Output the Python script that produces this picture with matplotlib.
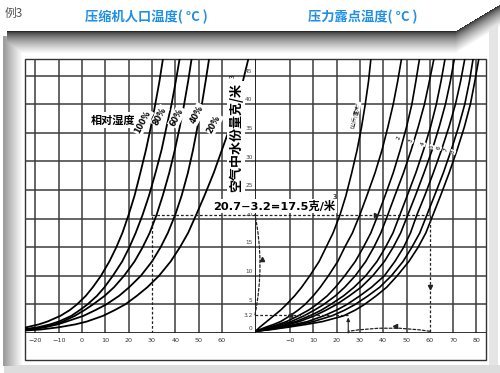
import numpy as np
import matplotlib
matplotlib.use("Agg")
import matplotlib.pyplot as plt
from matplotlib.patches import Rectangle

plt.rcParams['font.family'] = ['Noto Sans CJK SC', 'DejaVu Sans']

W, H = 500, 373

LEVELS = [0.3, 0.6, 1, 1.5, 2, 3, 4, 5, 6.5, 8, 10, 12.5, 15, 17.5, 20.7,
          24, 28, 32, 36, 40, 44, 49]

# compressor inlet temperature for each relative humidity
RH_LABELS = ["100%", "80%", "60%", "40%", "20%"]
RH_100 = [-40, -30.6, -23.9, -18.6, -14.9, -9.3, -5.3, -2.2, 1.6, 4.6, 8.1,
          11.7, 14.7, 17.3, 20, 22.5, 25, 27.4, 29.5, 31.4, 33.2, 35.1]
RH_80 = [-36, -26, -19, -13.8, -10, -4.6, -1, 2.3, 6.4, 9.6, 13.2, 17.2,
         20.3, 23, 26, 28.7, 31.5, 34.1, 36.2, 38.4, 40.2, 42.3]
RH_60 = [-34, -24, -16.9, -11.7, -8.3, -3.1, 1, 4.7, 9.7, 13.7, 18, 22.5, 26,
         29, 32, 34.6, 37.4, 39.8, 41.9, 43.8, 45.5, 47.4]
RH_40 = [-33, -23, -16, -10.5, -6.7, 0.6, 5.7, 10.4, 15.9, 20.2, 25.2, 30,
         33.7, 36.8, 40, 42.7, 45.4, 47.6, 49.5, 51.4, 53, 54.9]
RH_20 = [-30, -18, -10, -3, 2, 9, 14, 18.5, 23.5, 28, 33, 38, 42, 45.5, 49,
         52.5, 56.5, 60, 63.5, 66.5, 69, 72]

# pressure dew point for each gauge pressure (kg/cm2)
GAUGE_LABELS = ["0", "1", "2", "3", "4", "5", "6", "7", "8"]
DEW_0 = [-15, -14, -13, -11.5, -10, -7, -4, -1.5, 2, 5, 8.5, 12.5, 15.5,
         18.5, 21.5, 24, 26.5, 28.8, 30.7, 32.3, 33.7, 35]
DEW_1 = [-15, -13, -10.5, -7, -4, 0, 3.5, 6.5, 10, 13, 16.5, 20.5, 23.5,
         26.8, 30, 33, 36.5, 39.5, 42, 44.3, 46.2, 48.3]
DEW_2 = [-15, -12, -9, -5, -1.5, 3.5, 8, 11.5, 16, 19.5, 23.5, 28, 31.5,
         34.7, 37.8, 40.8, 44.3, 47.3, 50, 52.3, 54, 56]
DEW_3 = [-15, -11.5, -8, -3.5, 0.5, 6, 10.5, 14.5, 19.5, 23.5, 28, 32.5, 36,
         39, 42, 45, 48.7, 52, 55, 57.7, 59.8, 62.3]
DEW_4 = [-15, -11, -7, -2, 2.5, 8.5, 13.5, 17.5, 23, 27.5, 32.5, 37.3, 41,
         44.2, 47.2, 50.3, 54, 57.3, 60.3, 62.8, 64.8, 67]
DEW_5 = [-15, -10.5, -6, -0.5, 4, 10.5, 15.5, 20, 25.5, 30.5, 35.5, 40.5,
         44.3, 47.5, 50.6, 53.8, 57.5, 61, 64, 66.7, 68.8, 71]
DEW_6 = [-15, -9.5, -4, 2, 7.5, 14.5, 20, 24.5, 30, 35, 40.5, 45, 48.8, 51.7,
         54.5, 57.8, 61.5, 65, 68.2, 71, 73.2, 75.5]
DEW_7 = [-15, -9, -3, 4, 10, 18, 23.5, 28, 33.5, 38.5, 43.5, 48.5, 52.3,
         55.7, 58.8, 62, 65.8, 69.2, 72.3, 75, 77, 79]
DEW_8 = [-15, -8, -1, 7, 14, 23, 28, 32, 37, 41.5, 46, 51, 55, 58.3, 61.4,
         64.6, 68.3, 71.7, 74.8, 77.4, 79.3, 81.5]

LEFT_TICKS = [-20, -10, 0, 10, 20, 30, 40, 50, 60]
LEFT_TICK_LABELS = ["\u221220", "\u221210", "0", "10", "20", "30", "40", "50", "60"]
RIGHT_TICKS = [0, 10, 20, 30, 40, 50, 60, 70, 80]
RIGHT_TICK_LABELS = ["\u22120", "10", "20", "30", "40", "50", "60", "70", "80"]
Y_TICKS = [0, 5, 10, 15, 20, 25, 30, 35, 40, 45]

# worked example
INLET_T = 30
WATER_IN = 20.7
WATER_OUT = 3.2
HOT_T = 60
DEW_T = 25

YMAX = 47.9
GRID = "#3c3c3c"
DASH = (0, (2.2, 1.6))


def _frame(ax):
  img = np.ones((H, W, 3))
  rows = np.arange(H)[:, None]
  cols = np.arange(W)[None, :]
  top = np.where(cols > 455, 31 - (cols - 455) * 0.6, 31)
  d = rows - top
  band = np.clip(d / 22.0, 0, 1) ** 0.65
  shade = np.where((d >= 0) & (rows < 60) & (cols > 6), 0.15 + 0.85 * band, 1)
  left = np.clip((cols - 4) / 18.0, 0, 1)
  lshade = np.where((cols >= 3) & (cols < 24) & (rows > 35) & (rows < 366),
                    0.62 + 0.38 * left, 1)
  bot = np.where((rows > 364) & (cols > 3), 0.87, 1)
  right = np.where((cols > 488) & (cols < 498) & (rows > 20) & (rows < 368),
                   0.9, 1)
  v = np.minimum.reduce([shade, lshade, bot, right])
  img *= v[..., None]
  ax.imshow(img, extent=(0, W, H, 0), aspect="auto", zorder=0)
  ax.add_patch(Rectangle((25, 59), 461, 301, fill=False, lw=1.0,
                         ec="#333333", zorder=1))


def _grid(ax, xticks, skip_t):
  for t in xticks:
    lo = WATER_IN / YMAX if t == skip_t else 0
    ax.axvline(t, ymin=lo, ymax=1, color=GRID, lw=1.1, zorder=1)
  ax.hlines(Y_TICKS[1:], *ax.get_xlim(), color=GRID, lw=1.1, zorder=1)
  ax.axhline(0, color="#111111", lw=1.2, zorder=2)
  ax.set_xticks([])
  ax.set_yticks([])
  for s in ax.spines.values():
    s.set_visible(False)


def _ticklabels(ax, ticks, labels):
  for t, lab in zip(ticks, labels):
    ax.text(t, -0.9, lab, ha="center", va="top", fontsize=4.6,
            color="#333333", family="DejaVu Sans")


fig = plt.figure(figsize=(W / 100, H / 100), dpi=100)
ax_bg = fig.add_axes([0, 0, 1, 1])
ax_bg.set_xlim(0, W)
ax_bg.set_ylim(H, 0)
ax_bg.axis("off")
_frame(ax_bg)

ax_l = fig.add_axes([25 / W, 40 / H, 230 / W, 274 / H], facecolor="none")
ax_r = fig.add_axes([255 / W, 40 / H, 231 / W, 274 / H], facecolor="none")
ax_l.set_xlim(-24.5, 74.2)
ax_r.set_xlim(-15.0, 84.1)
for ax in (ax_l, ax_r):
  ax.set_ylim(0, YMAX)

_grid(ax_l, LEFT_TICKS, INLET_T)
_grid(ax_r, RIGHT_TICKS, HOT_T)
ax_r.axvline(-15.0, color="#111111", lw=1.3, zorder=2)
_ticklabels(ax_l, LEFT_TICKS, LEFT_TICK_LABELS)
_ticklabels(ax_r, RIGHT_TICKS, RIGHT_TICK_LABELS)
for v in Y_TICKS:
  ax_r.text(-16.0, v + 0.3, str(v), ha="right", va="bottom", fontsize=4.2,
            color="#444444", family="DejaVu Sans")
ax_r.text(-16.0, WATER_OUT - 0.2, "3.2", ha="right", va="center", fontsize=4.2,
          color="#444444", family="DejaVu Sans")

for temps in (RH_100, RH_80, RH_60, RH_40, RH_20):
  ax_l.plot(temps, LEVELS, color="black", lw=1.3, zorder=3)
for temps in (DEW_0, DEW_1, DEW_2, DEW_3, DEW_4, DEW_5, DEW_6, DEW_7, DEW_8):
  ax_r.plot(temps, LEVELS, color="black", lw=1.2, zorder=3)

# worked example path
dk = dict(color="#222222", lw=0.9, ls=DASH, zorder=4)
ax_l.plot([INLET_T, INLET_T], [0, WATER_IN], **dk)
ax_l.plot([INLET_T, 74.2], [WATER_IN, WATER_IN], **dk)
ax_r.plot([-15.0, HOT_T], [WATER_IN, WATER_IN], **dk)
ax_r.plot([HOT_T, HOT_T], [WATER_IN, 0], **dk)
ax_r.plot([-15.0, DEW_T], [WATER_OUT, WATER_OUT], **dk)
ax_r.annotate("", xy=(DEW_T, 0.3), xytext=(HOT_T, 0.3),
              arrowprops=dict(arrowstyle="-", ls=DASH, lw=0.9, color="#222222",
                              connectionstyle="arc3,rad=0.08",
                              shrinkA=0, shrinkB=0))
ax_r.annotate("", xy=(-15.0, WATER_IN), xytext=(-15.0, WATER_OUT),
              arrowprops=dict(arrowstyle="-", ls=DASH, lw=0.9, color="#222222",
                              connectionstyle="arc3,rad=0.1",
                              shrinkA=0, shrinkB=0))
ax_r.annotate("", xy=(DEW_T, WATER_OUT - 0.5), xytext=(DEW_T, 0),
              arrowprops=dict(arrowstyle="-|>", lw=0.8, color="#222222",
                              mutation_scale=5, shrinkA=0, shrinkB=0))
mk = dict(color="#222222", ms=3, ls="none", zorder=5)
ax_r.plot([37], [WATER_IN], marker=">", **mk)
ax_r.plot([HOT_T], [8], marker="v", **mk)
ax_r.plot([45], [1.2], marker="<", **mk)
ax_r.plot([0], [WATER_OUT], marker="<", **mk)
ax_r.plot([-12.2], [13], marker="^", **mk)

# text overlay
ax_t = fig.add_axes([0, 0, 1, 1], facecolor="none")
ax_t.set_xlim(0, W)
ax_t.set_ylim(H, 0)
ax_t.axis("off")
ax_t.text(5, 13, "例3", fontsize=8.5, color="#555555", va="center")
ax_t.text(85, 17, "压缩机人口温度( °C )", fontsize=9.5, color="#1f8fe6",
          va="center", fontweight="bold")
ax_t.text(308, 17, "压力露点温度( °C )", fontsize=9.5, color="#1f8fe6",
          va="center", fontweight="bold")
wb = dict(boxstyle="square,pad=0.15", fc="white", ec="none")
ax_t.text(113, 120, "相对湿度", fontsize=8, fontweight="bold", ha="center",
          va="center", bbox=wb)
rh_pos = [(143, 122), (160, 116), (177, 117), (197, 114), (214, 124)]
for lab, (x, y) in zip(RH_LABELS, rh_pos):
  ax_t.text(x, y, lab, fontsize=5.8, fontweight="bold", rotation=62,
            ha="center", va="center", family="DejaVu Sans", bbox=wb)
ax_t.text(236, 137, "空气中水份量克/米", fontsize=9.4, fontweight="bold",
          rotation=90, ha="center", va="center", bbox=wb)
ax_t.text(233, 76, "3", fontsize=4.5, rotation=90, ha="center", va="center")
ax_t.text(213, 206, "20.7\u22123.2=17.5克/米", fontsize=8.2, ha="left",
          va="center", bbox=wb, fontweight="bold",
          family=["DejaVu Sans", "Noto Sans CJK SC"])
ax_t.text(335, 197, "3", fontsize=5, ha="center", va="center")
ax_t.text(356, 115, "0公斤/厘米²", fontsize=3.6, rotation=78, ha="center",
          va="center", bbox=dict(boxstyle="square,pad=0.05", fc="white", ec="none"))
for lab, x, y in zip(GAUGE_LABELS[2:], [399, 411, 423, 432, 439, 446, 453],
                     [138, 141, 144, 147, 148, 150, 152]):
  ax_t.text(x, y, lab, fontsize=4.2, rotation=70, ha="center", va="center",
            family="DejaVu Sans",
            bbox=dict(boxstyle="square,pad=0.05", fc="white", ec="none"))

fig.savefig("out.png", dpi=100)
